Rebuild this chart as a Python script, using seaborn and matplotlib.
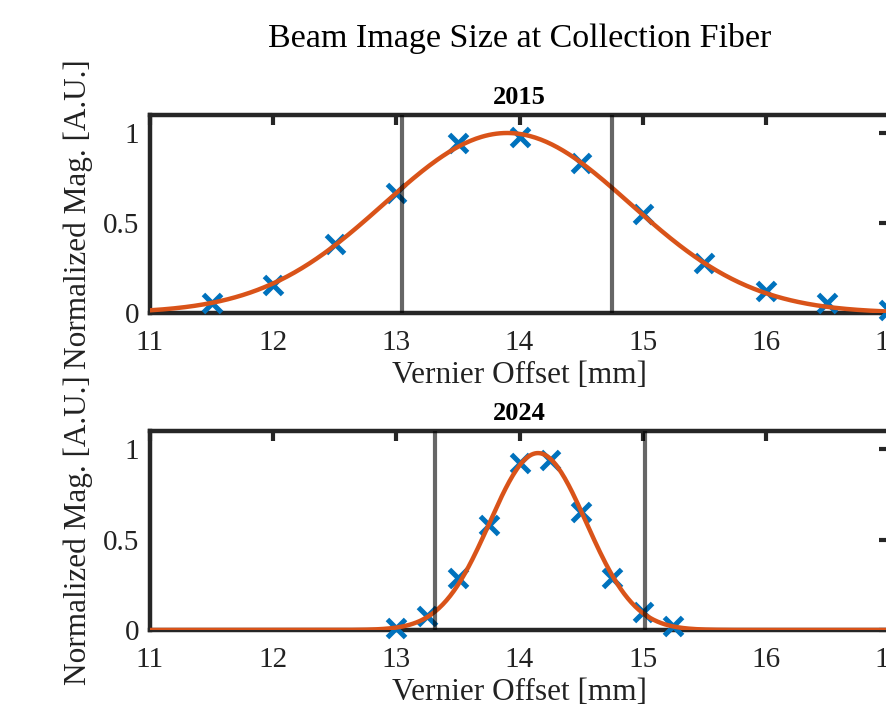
import numpy as np
import pandas as pd
import matplotlib
matplotlib.use("Agg")
import matplotlib.pyplot as plt
import seaborn as sns

offset_2015 = [11.5, 12.0, 12.5, 13.0, 13.5, 14.0, 14.5, 15.0, 15.5, 16.0, 16.5, 17.0]
mag_2015 = [0.054, 0.153, 0.385, 0.667, 0.945, 0.98, 0.833, 0.55, 0.28, 0.125, 0.054, 0.015]
offset_2024 = [13.0, 13.25, 13.5, 13.75, 14.0, 14.25, 14.5, 14.75, 15.0, 15.25]
mag_2024 = [0.01, 0.077, 0.287, 0.58, 0.925, 0.94, 0.65, 0.29, 0.10, 0.02]

# gaussian fit parameters (peak, centre, sigma) estimated from the drawn fit lines
fit_2015 = (1.0, 13.9, 1.0)
fit_2024 = (0.978, 14.15, 0.393)

# grey marker lines
lines_2015 = [13.05, 14.75]
lines_2024 = [13.31, 15.02]

years = ["2015", "2024"]
x_ticks = [11, 12, 13, 14, 15, 16, 17]
y_ticks = [0, 0.5, 1]

blue = "#0072BD"
orange = "#D95319"
dark = "#262626"

sns.set_theme(style="white")
plt.rcParams["font.family"] = ["Liberation Serif", "DejaVu Serif"]

fig = plt.figure(figsize=(8.87, 7.22), dpi=100)
ax1 = fig.add_axes([150 / 887, 1 - 313 / 722, 739 / 887, 198 / 722])
ax2 = fig.add_axes([150 / 887, 1 - 630 / 722, 739 / 887, 199 / 722])

datasets = [
    (ax1, offset_2015, mag_2015, fit_2015, lines_2015, years[0]),
    (ax2, offset_2024, mag_2024, fit_2024, lines_2024, years[1]),
]

for ax, xs, ys, fit, vlines, year in datasets:
    pts = pd.DataFrame({"offset": xs, "mag": ys})
    sns.scatterplot(data=pts, x="offset", y="mag", ax=ax, marker="x", s=170,
                    color=blue, linewidth=3.6, zorder=3, clip_on=False)

    amp, mu, sig = fit
    xf = np.linspace(11, 17, 400)
    curve = pd.DataFrame({"offset": xf, "mag": amp * np.exp(-(xf - mu) ** 2 / (2 * sig ** 2))})
    sns.lineplot(data=curve, x="offset", y="mag", ax=ax, color=orange, lw=3.2, zorder=4)

    for v in vlines:
        ax.axvline(v, color="black", alpha=0.6, lw=3, zorder=5)

    ax.set_xlim(11, 17)
    ax.set_ylim(0, 1.1)
    ax.set_xticks(x_ticks)
    ax.set_yticks(y_ticks)
    ax.set_yticklabels(["0", "0.5", "1"])
    ax.tick_params(direction="in", length=7, width=3, colors=dark, labelcolor="#222222",
                   labelsize=21, top=True, right=True)
    ax.tick_params(axis="x", pad=12)
    ax.tick_params(axis="y", pad=8)
    for s in ax.spines.values():
        s.set_linewidth(3.2)
        s.set_color(dark)
    ax.set_xlabel("Vernier Offset [mm]", fontsize=22.5, color="#222222", labelpad=4)
    ax.set_ylabel("Normalized Mag. [A.U.]", fontsize=22.5, color="#222222", labelpad=7)
    ax.set_title(year, fontsize=19, fontweight="bold", color="black", pad=8)

fig.text((150 + 889) / 2 / 887, 1 - 38 / 722, "Beam Image Size at Collection Fiber",
         ha="center", va="center", fontsize=24.5, color="black")

fig.savefig("out.png", dpi=100)
